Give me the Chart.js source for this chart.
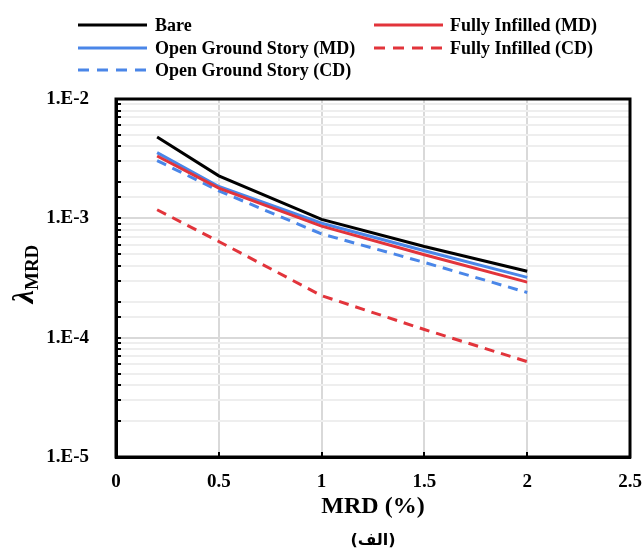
<!DOCTYPE html>
<html>
<head>
<meta charset="utf-8">
<script src="https://cdn.jsdelivr.net/npm/chart.js@4/dist/chart.umd.min.js"></script>
<style>
  html, body { margin: 0; padding: 0; background: #ffffff; }
  #wrap { position: relative; width: 643px; height: 552px; }
</style>
</head>
<body>
<div id="wrap"><canvas id="c" width="643" height="552"></canvas></div>
<script>
// ---- data ----
const mrd = [0.2, 0.5, 1, 1.5, 2];
const bare = [4.8e-3, 2.27e-3, 9.8e-4, 5.8e-4, 3.6e-4];
const fullyInfilledMD = [3.33e-3, 1.79e-3, 8.6e-4, 4.95e-4, 2.92e-4];
const openGroundMD = [3.55e-3, 1.85e-3, 9.1e-4, 5.35e-4, 3.2e-4];
const fullyInfilledCD = [1.18e-3, 6.4e-4, 2.25e-4, 1.17e-4, 6.3e-5];
const openGroundCD = [3.05e-3, 1.70e-3, 7.4e-4, 4.27e-4, 2.39e-4];
const seriesLabels = ['Bare', 'Fully Infilled (MD)', 'Open Ground Story (MD)', 'Fully Infilled (CD)', 'Open Ground Story (CD)'];
const xTicks = [0, 0.5, 1, 1.5, 2, 2.5];
const yDecades = [1e-5, 1e-4, 1e-3, 1e-2];
const xTitle = 'MRD (%)';
const yTitleMain = 'λ';
const yTitleSub = 'MRD';
const caption = '(الف)';

const BLACK = '#000000', BLUE = '#4a86e8', RED = '#e2343b';
const SERIF = '"Liberation Serif", "Times New Roman", serif';

function pts(vals) { return mrd.map((x, i) => ({ x: x, y: vals[i] })); }

const datasets = [
  { label: seriesLabels[0], data: pts(bare), borderColor: BLACK, borderDash: [] },
  { label: seriesLabels[1], data: pts(fullyInfilledMD), borderColor: RED, borderDash: [] },
  { label: seriesLabels[2], data: pts(openGroundMD), borderColor: BLUE, borderDash: [] },
  { label: seriesLabels[3], data: pts(fullyInfilledCD), borderColor: RED, borderDash: [10, 7] },
  { label: seriesLabels[4], data: pts(openGroundCD), borderColor: BLUE, borderDash: [10, 7] }
].map(d => Object.assign(d, { borderWidth: 3, pointRadius: 0, fill: false, tension: 0, backgroundColor: d.borderColor }));

// legend layout: column per item order [Bare, OGS MD, OGS CD] | [FI MD, FI CD]
const legendSlots = [
  { idx: 0, col: 0, row: 0 }, { idx: 2, col: 0, row: 1 }, { idx: 4, col: 0, row: 2 },
  { idx: 1, col: 1, row: 0 }, { idx: 3, col: 1, row: 1 }
];

const decorPlugin = {
  id: 'decor',
  afterDraw(chart) {
    const ctx = chart.ctx, a = chart.chartArea;
    const xs = chart.scales.x, ys = chart.scales.y;
    ctx.save();
    // inner tick marks on y axis
    ctx.strokeStyle = BLACK; ctx.lineWidth = 2;
    ys.ticks.forEach(t => {
      const p = Math.round(ys.getPixelForValue(t.value));
      ctx.beginPath(); ctx.moveTo(a.left, p); ctx.lineTo(a.left + 5, p); ctx.stroke();
    });
    xs.ticks.forEach(t => {
      const p = Math.round(xs.getPixelForValue(t.value));
      ctx.beginPath(); ctx.moveTo(p, a.bottom); ctx.lineTo(p, a.bottom - 5); ctx.stroke();
    });
    // frame
    ctx.lineWidth = 3;
    ctx.strokeRect(a.left, a.top, a.right - a.left, a.bottom - a.top);

    // x title
    ctx.fillStyle = BLACK;
    ctx.textAlign = 'center'; ctx.textBaseline = 'middle';
    ctx.font = 'bold 24px ' + SERIF;
    ctx.fillText(xTitle, (a.left + a.right) / 2, 507);
    // caption
    ctx.font = 'bold 16px "DejaVu Sans", sans-serif';
    ctx.fillText(caption, (a.left + a.right) / 2, 541);

    // y title (rotated), lambda with subscript
    ctx.save();
    ctx.translate(33, 274);
    ctx.rotate(-Math.PI / 2);
    ctx.textAlign = 'left'; ctx.textBaseline = 'alphabetic';
    const fMain = 'italic bold 30px ' + SERIF, fSub = 'bold 19px ' + SERIF;
    ctx.font = fMain; const wM = ctx.measureText(yTitleMain).width;
    ctx.font = fSub; const wS = ctx.measureText(yTitleSub).width;
    const x0 = -(wM + wS) / 2;
    ctx.font = fMain; ctx.fillText(yTitleMain, x0, 0);
    ctx.font = fSub; ctx.fillText(yTitleSub, x0 + wM, 5);
    ctx.restore();

    // legend
    const colLine = [78, 374], colText = [155, 450], rowY = [25, 48, 70];
    ctx.font = 'bold 18px ' + SERIF;
    ctx.textAlign = 'left'; ctx.textBaseline = 'middle';
    legendSlots.forEach(s => {
      const d = chart.data.datasets[s.idx];
      const y = rowY[s.row];
      ctx.strokeStyle = d.borderColor; ctx.lineWidth = 3;
      ctx.setLineDash(d.borderDash.length ? [11, 8] : []);
      ctx.beginPath(); ctx.moveTo(colLine[s.col], y); ctx.lineTo(colLine[s.col] + 69, y); ctx.stroke();
      ctx.setLineDash([]);
      ctx.fillStyle = BLACK;
      ctx.fillText(d.label, colText[s.col], y + 1);
    });
    ctx.restore();
  }
};

new Chart(document.getElementById('c'), {
  type: 'line',
  data: { datasets: datasets },
  options: {
    responsive: false,
    animation: false,
    devicePixelRatio: 1,
    layout: { padding: { top: 99, right: 13, left: 0, bottom: 0 } },
    plugins: { legend: { display: false }, tooltip: { enabled: false } },
    scales: {
      x: {
        type: 'linear', min: 0, max: 2.5,
        afterBuildTicks: s => { s.ticks = xTicks.map(v => ({ value: v })); },
        afterFit: s => { s.height = 95; s.paddingLeft = 0; s.paddingRight = 0; },
        ticks: { color: BLACK, font: { family: SERIF, size: 19, weight: 'bold' }, padding: 14, maxRotation: 0,
                 callback: v => String(v) },
        grid: { color: '#d9d9d9', lineWidth: 2, drawTicks: false },
        border: { display: true, color: BLACK, width: 3 }
      },
      y: {
        type: 'logarithmic', min: 1e-5, max: 1e-2,
        afterFit: s => { s.width = 116; s.paddingTop = 0; s.paddingBottom = 0; },
        ticks: {
          color: BLACK, font: { family: SERIF, size: 19, weight: 'bold' }, padding: 27, autoSkip: false,
          callback: v => {
            const hit = yDecades.find(d => Math.abs(v / d - 1) < 1e-6);
            return hit ? '1.E' + Math.round(Math.log10(hit)) : '';
          }
        },
        grid: {
          drawTicks: false, lineWidth: 2,
          color: c => {
            const v = c.tick ? c.tick.value : 0;
            return yDecades.some(d => Math.abs(v / d - 1) < 1e-6) ? '#d9d9d9' : '#eeeeee';
          }
        },
        border: { display: true, color: BLACK, width: 3 }
      }
    }
  },
  plugins: [decorPlugin]
});
</script>
</body>
</html>
